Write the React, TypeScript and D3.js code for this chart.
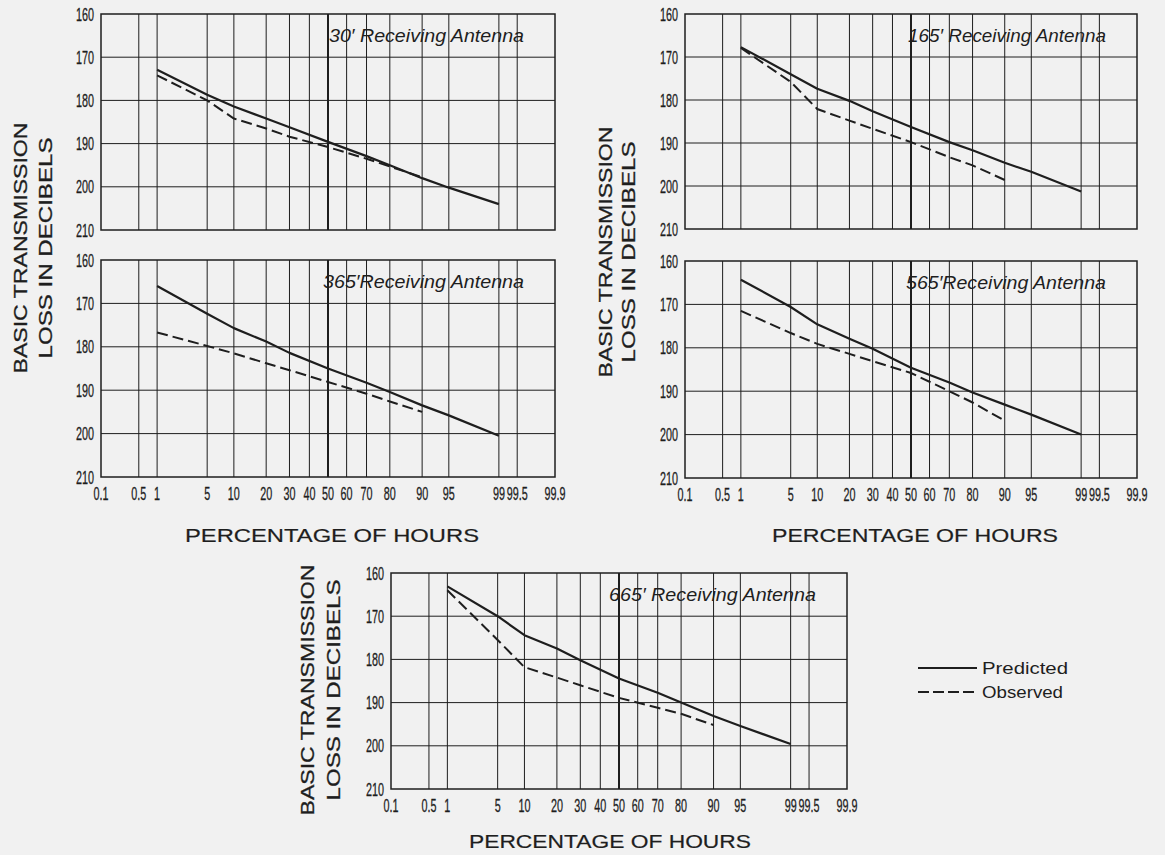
import * as d3 from "d3";

// percentage-of-hours axis (normal probability paper)
const pctTicks = [0.1, 0.5, 1, 5, 10, 20, 30, 40, 50, 60, 70, 80, 90, 95, 99, 99.5, 99.9];
const pctLabels = ["0.1", "0.5", "1", "5", "10", "20", "30", "40", "50", "60", "70", "80", "90", "95", "99", "99.5", "99.9"];
const lossTicks = [160, 170, 180, 190, 200, 210];

const predictedPct = [1, 5, 10, 20, 30, 50, 70, 80, 90, 95, 99];
const observedPct = [1, 5, 10, 20, 30, 50, 70, 80, 90];

const predicted30 = [172.9, 178.7, 181.4, 184.2, 186.2, 189.6, 192.9, 195.0, 198.0, 200.2, 204.0];
const observed30 = [174.2, 180.0, 184.2, 186.5, 188.4, 190.8, 193.5, 195.3, 197.8];

const predicted165 = [167.7, 174.0, 177.4, 180.2, 182.6, 186.3, 189.8, 191.7, 194.6, 196.7, 201.3];
const observed165 = [167.9, 175.8, 182.1, 184.8, 186.7, 189.8, 193.3, 195.2, 198.6];

const predicted365 = [166.0, 172.4, 175.7, 178.8, 181.4, 185.0, 188.3, 190.4, 193.5, 195.8, 200.5];
const observed365 = [176.7, 179.8, 181.5, 183.8, 185.4, 188.1, 190.8, 192.6, 195.0];

const predicted565 = [164.3, 170.6, 174.6, 177.9, 180.2, 184.6, 188.0, 190.3, 193.1, 195.4, 200.0];
const observed565 = [171.5, 176.6, 179.1, 181.4, 183.1, 185.8, 190.0, 192.6, 196.8];

const predicted665 = [163.1, 170.0, 174.4, 177.5, 180.2, 184.4, 187.7, 190.0, 193.1, 195.4, 199.6];
const observed665 = [164.0, 175.5, 181.8, 184.2, 186.0, 188.9, 191.2, 192.6, 195.2];

const titles = ["30\u2032 Receiving Antenna", "165\u2032 Receiving Antenna", "365\u2032Receiving Antenna", "565\u2032Receiving Antenna", "665\u2032 Receiving Antenna"];

// Acklam's inverse normal cdf, used to build the probability scale
function probit(p: number): number {
  const a = [-39.69683028665376, 220.9460984245205, -275.9285104469687, 138.357751867269, -30.66479806614716, 2.506628277459239];
  const b = [-54.47609879822406, 161.5858368580409, -155.6989798598866, 66.80131188771972, -13.28068155288572];
  const c = [-0.007784894002430293, -0.3223964580411365, -2.400758277161838, -2.549732539343734, 4.374664141464968, 2.938163982698783];
  const d = [0.007784695709041462, 0.3224671290700398, 2.445134137142996, 3.754408661907416];
  const pl = 0.02425;
  if (p < pl) {
    const q = Math.sqrt(-2 * Math.log(p));
    return (((((c[0] * q + c[1]) * q + c[2]) * q + c[3]) * q + c[4]) * q + c[5]) / ((((d[0] * q + d[1]) * q + d[2]) * q + d[3]) * q + 1);
  }
  if (p > 1 - pl) {
    const q = Math.sqrt(-2 * Math.log(1 - p));
    return -(((((c[0] * q + c[1]) * q + c[2]) * q + c[3]) * q + c[4]) * q + c[5]) / ((((d[0] * q + d[1]) * q + d[2]) * q + d[3]) * q + 1);
  }
  const q = p - 0.5;
  const r = q * q;
  return ((((((a[0] * r + a[1]) * r + a[2]) * r + a[3]) * r + a[4]) * r + a[5]) * q) / (((((b[0] * r + b[1]) * r + b[2]) * r + b[3]) * r + b[4]) * r + 1);
}

const INK = "#1e1e1e";
const SANS = "'Liberation Sans', Arial, sans-serif";

const panels = [
  { title: titles[0], pred: predicted30, obs: observed30, x0: 101, x1: 555, y0: 14, y1: 230, xLabels: false, titleW: 195 },
  { title: titles[1], pred: predicted165, obs: observed165, x0: 685, x1: 1137, y0: 14, y1: 229, xLabels: false, titleW: 198 },
  { title: titles[2], pred: predicted365, obs: observed365, x0: 101, x1: 555, y0: 260, y1: 477, xLabels: true, titleW: 201 },
  { title: titles[3], pred: predicted565, obs: observed565, x0: 685, x1: 1137, y0: 261, y1: 478, xLabels: true, titleW: 200 },
  { title: titles[4], pred: predicted665, obs: observed665, x0: 391, x1: 847, y0: 573, y1: 789, xLabels: true, titleW: 207 },
];

const yTitles = [
  { cx1: 20, cx2: 45, cy: 248 },
  { cx1: 605, cx2: 628, cy: 252 },
  { cx1: 307, cx2: 333, cy: 690 },
];

const xTitles = [
  { cx: 332, y: 542, w: 294 },
  { cx: 915, y: 542, w: 286 },
  { cx: 610, y: 848, w: 282 },
];

// narrow lettering for the tick numbers: squeeze a regular face horizontally
function Num({ x, y, anchor, children }: { x: number; y: number; anchor: string; children: string }) {
  return (
    <text
      transform={`translate(${x},${y}) scale(0.6,1)`}
      textAnchor={anchor}
      fontFamily={SANS}
      fontSize={18}
      fill={INK}
      stroke={INK}
      strokeWidth={0.3}
    >
      {children}
    </text>
  );
}

function Panel({ p }: { p: (typeof panels)[number] }) {
  const z = d3.scaleLinear().domain([probit(0.001), probit(0.999)]).range([p.x0, p.x1]);
  const x = (pct: number) => z(probit(pct / 100));
  const y = d3.scaleLinear().domain([160, 210]).range([p.y0, p.y1]);
  const lineP = d3.line<number>().x((_, i) => x(predictedPct[i])).y((v) => y(v));
  const lineO = d3.line<number>().x((_, i) => x(observedPct[i])).y((v) => y(v));

  return (
    <g>
      {pctTicks.slice(1, -1).map((t) => (
        <line key={"v" + t} x1={x(t)} x2={x(t)} y1={p.y0} y2={p.y1} stroke={INK} strokeWidth={t === 50 ? 2 : 1} />
      ))}
      {lossTicks.slice(1, -1).map((t) => (
        <line key={"h" + t} x1={p.x0} x2={p.x1} y1={y(t)} y2={y(t)} stroke={INK} strokeWidth={1} />
      ))}
      <rect x={p.x0} y={p.y0} width={p.x1 - p.x0} height={p.y1 - p.y0} fill="none" stroke={INK} strokeWidth={1.5} />
      {lossTicks.map((t) => (
        <Num key={"yl" + t} x={p.x0 - 7} y={y(t) + 6.5} anchor="end">
          {String(t)}
        </Num>
      ))}
      {p.xLabels &&
        pctTicks.map((t, i) => (
          <Num key={"xl" + t} x={x(t)} y={p.y1 + 23} anchor="middle">
            {pctLabels[i]}
          </Num>
        ))}
      <text
        x={p.x1 - 31}
        y={p.y0 + 28}
        textAnchor="end"
        fontFamily={SANS}
        fontStyle="italic"
        fontSize={18}
        textLength={p.titleW}
        lengthAdjust="spacingAndGlyphs"
        fill={INK}
      >
        {p.title}
      </text>
      <path d={lineP(p.pred) ?? ""} fill="none" stroke={INK} strokeWidth={2.2} strokeLinejoin="round" />
      <path d={lineO(p.obs) ?? ""} fill="none" stroke={INK} strokeWidth={2} strokeDasharray="11,5" />
    </g>
  );
}

export default function App() {
  return (
    <svg width={1165} height={855} style={{ position: "absolute", left: 0, top: 0, background: "#f1f1f1" }}>
      <rect width={1165} height={855} fill="#f1f1f1" />
      {panels.map((p) => (
        <Panel key={p.title} p={p} />
      ))}
      {yTitles.map((t, i) => (
        <g key={"yt" + i} fontFamily={SANS} fontSize={19} fill={INK} stroke={INK} strokeWidth={0.3}>
          <text transform={`translate(${t.cx1},${t.cy}) rotate(-90)`} textAnchor="middle" dy="0.36em" textLength={251} lengthAdjust="spacingAndGlyphs">
            BASIC TRANSMISSION
          </text>
          <text transform={`translate(${t.cx2},${t.cy}) rotate(-90)`} textAnchor="middle" dy="0.36em" textLength={221} lengthAdjust="spacingAndGlyphs">
            LOSS IN DECIBELS
          </text>
        </g>
      ))}
      {xTitles.map((t, i) => (
        <text
          key={"xt" + i}
          x={t.cx}
          y={t.y}
          textAnchor="middle"
          fontFamily={SANS}
          fontSize={19}
          fill={INK}
          stroke={INK}
          strokeWidth={0.2}
          textLength={t.w}
          lengthAdjust="spacingAndGlyphs"
        >
          PERCENTAGE OF HOURS
        </text>
      ))}
      <g fontFamily={SANS} fontSize={17} fill={INK}>
        <line x1={918} x2={977} y1={668} y2={668} stroke={INK} strokeWidth={2} />
        <text x={982} y={674} textLength={86} lengthAdjust="spacingAndGlyphs">Predicted</text>
        <line x1={918} x2={977} y1={692} y2={692} stroke={INK} strokeWidth={2} strokeDasharray="11,4" />
        <text x={982} y={698} textLength={81} lengthAdjust="spacingAndGlyphs">Observed</text>
      </g>
    </svg>
  );
}
